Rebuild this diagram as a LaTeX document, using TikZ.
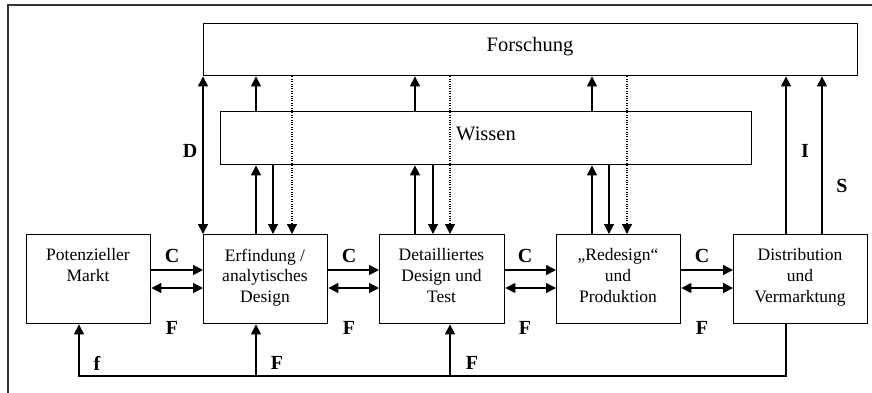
\documentclass[tikz,border=0pt]{standalone}
\usepackage{fontspec}
\setmainfont{Liberation Serif}
\usetikzlibrary{arrows.meta}
\begin{document}
\begin{tikzpicture}[x=1pt,y=-1pt,
  box/.style={draw, line width=1.4pt, inner sep=0pt, anchor=north west},
  boxtext/.style={font=\fontsize{17.5}{20.7}\selectfont, align=center, anchor=north, inner sep=0pt},
  bigtext/.style={font=\fontsize{20.5}{24}\selectfont, anchor=base, inner sep=0pt},
  lbl/.style={font=\fontsize{20}{24}\selectfont\bfseries, inner sep=0pt},
  conn/.style={line width=1.4pt, line join=miter},
  arr/.style={conn, -{Triangle[length=10pt,width=10pt]}},
  darr/.style={conn, {Triangle[length=10pt,width=10pt]}-{Triangle[length=10pt,width=10pt]}},
  dotarr/.style={arr, line width=1.2pt, dash pattern=on 1pt off 1.4pt}
]
\useasboundingbox (0,0) rectangle (872,392);
\clip (0,0) rectangle (872,392);
% outer frame
\draw[line width=1.6pt, black!80] (8,5) rectangle (900,420);

% boxes
\node[box, minimum width=654pt, minimum height=52pt] (F) at (203,23) {};
\node[box, minimum width=531pt, minimum height=53pt] (W) at (220,111) {};
\node[box, minimum width=124pt, minimum height=89pt] (M) at (26,234) {};
\node[box, minimum width=124pt, minimum height=89pt] (E) at (203,234) {};
\node[box, minimum width=125pt, minimum height=89pt] (D) at (379,234) {};
\node[box, minimum width=124pt, minimum height=89pt] (R) at (556,234) {};
\node[box, minimum width=134pt, minimum height=89pt] (V) at (733,234) {};

% texts
\node[bigtext] (tF) at (530,51.5) {Forschung};
\node[bigtext] (tW) at (486,140.5) {Wissen};
\node[boxtext] (tM) at (88,248.5) {Potenzieller\\Markt};
\node[boxtext] (tE) at (265,248.5) {Erfindung /\\analytisches\\Design};
\node[boxtext] (tD) at (441.5,248.5) {Detailliertes\\Design und\\Test};
\node[boxtext] (tR) at (618,248.5) {„Redesign“\\und\\Produktion};
\node[boxtext] (tV) at (800,248.5) {Distribution\\und\\Vermarktung};

% column coordinates
\coordinate (cE1) at (256,0);
\coordinate (cE2) at (273,0);
\coordinate (cE3) at (292,0);
\coordinate (cD1) at (415,0);
\coordinate (cD2) at (433,0);
\coordinate (cD3) at (450,0);
\coordinate (cR1) at (592,0);
\coordinate (cR2) at (609,0);
\coordinate (cR3) at (627,0);
\coordinate (cI) at (786,0);
\coordinate (cS) at (822,0);
\coordinate (cM) at (79,0);
\coordinate (yC) at (0,270);
\coordinate (yF) at (0,288);
\coordinate (fb) at (0,376);

% D arrow
\draw[darr] (E.north west) -- (F.south west);

% vertical connectors per column
\foreach \b/\u/\d/\o in {E/cE1/cE2/cE3, D/cD1/cD2/cD3, R/cR1/cR2/cR3} {
  \draw[arr] (\b.north -| \u) -- (W.south -| \u);
  \draw[arr] (W.north -| \u) -- (F.south -| \u);
  \draw[arr] (W.south -| \d) -- (\b.north -| \d);
  \draw[dotarr] (F.south -| \o) -- (\b.north -| \o);
}

% I and S
\draw[arr] (V.north -| cI) -- (F.south -| cI);
\draw[arr] (V.north -| cS) -- (F.south -| cS);

% horizontal connectors
\foreach \a/\b in {M/E, E/D, D/R, R/V} {
  \draw[arr] (\a.east |- yC) -- (\b.west |- yC);
  \draw[darr] (\a.east |- yF) -- (\b.west |- yF);
}

% feedback
\draw[arr] (V.south -| cI) -- (fb -| cI) -- (fb -| cM) -- (M.south -| cM);
\draw[arr] (fb -| cE1) -- (E.south -| cE1);
\draw[arr] (fb -| cD3) -- (D.south -| cD3);

% labels
\node[lbl] (lD) at (190,151) {D};
\node[lbl] (lI) at (805,150.5) {I};
\node[lbl] (lS) at (842,186) {S};
\node[lbl] (lC1) at (172,256) {C};
\node[lbl] (lC2) at (349,256) {C};
\node[lbl] (lC3) at (525,256) {C};
\node[lbl] (lC4) at (702,256) {C};
\node[lbl] (lF1) at (172,328) {F};
\node[lbl] (lF2) at (349,328) {F};
\node[lbl] (lF3) at (525,328) {F};
\node[lbl] (lF4) at (702,328) {F};
\node[lbl] (lf) at (97,363) {f};
\node[lbl] (lF5) at (277,363) {F};
\node[lbl] (lF6) at (472,363) {F};
\end{tikzpicture}
\end{document}
